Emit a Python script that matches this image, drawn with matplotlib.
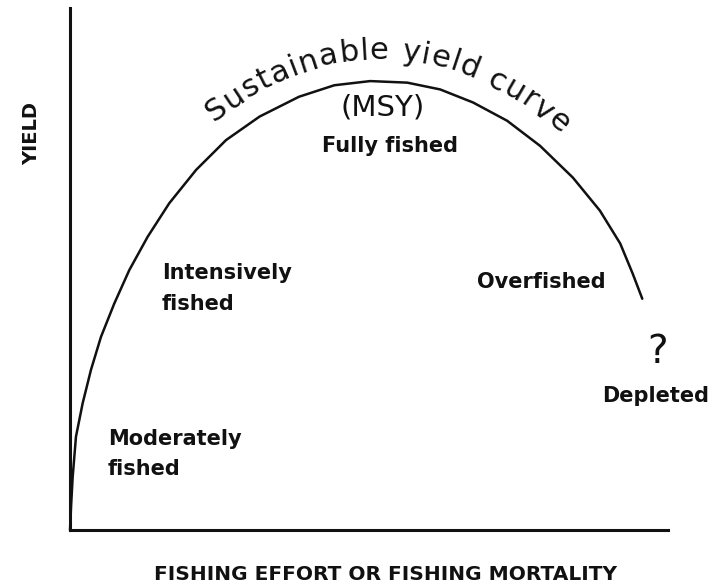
import numpy as np
import matplotlib
matplotlib.use("Agg")
import matplotlib.pyplot as plt

# yield curve (both axes scaled 0-100)
effort = [0, 0.2, 0.45, 1.00, 2.12, 3.51, 5.18, 7.41, 9.92, 13.0, 16.6, 21.1, 26.1,
          31.7, 38.3, 44.2, 50.2, 56.4, 61.9, 67.4, 73.1, 78.6, 84.1, 88.6, 92.0,
          94.1, 95.7]
yield_ = [0, 5.0, 10.2, 17.9, 24.3, 30.7, 37.0, 43.4, 49.8, 56.2, 62.6, 69.0, 74.7,
          79.2, 83.0, 85.2, 86.0, 85.7, 84.4, 81.9, 78.4, 73.6, 67.5, 61.2, 54.9,
          49.1, 44.3]

# region labels (left edge, baseline)
region_text = ["Moderately", "fished", "Intensively", "fished", "Fully fished",
               "Overfished", "Depleted"]
region_x = [6.35, 6.35, 15.4, 15.4, 42.1, 68.1, 89.0]
region_y = [16.3, 10.5, 48.1, 42.1, 72.4, 46.4, 24.5]

curve_title = "Sustainable yield curve"
xlabel = "FISHING EFFORT OR FISHING MORTALITY"
ylabel = "YIELD"

BOLD = dict(family="DejaVu Sans", fontweight="bold", color="#111111")
THIN = dict(family="DejaVu Sans", fontweight="normal", color="#111111")


def curved_text(ax, text, xs, ys, start_x, end_x, offset, **kw):
    """Write text letter by letter along a line offset from the curve (pixels)."""
    fig = ax.figure
    fig.canvas.draw()
    r = fig.canvas.get_renderer()
    pts = ax.transData.transform(np.column_stack([xs, ys]))
    seg = np.hypot(*np.diff(pts, axis=0).T)
    s = np.concatenate([[0], np.cumsum(seg)])

    def at(q):
        return np.interp(q, s, pts[:, 0]), np.interp(q, s, pts[:, 1])

    # offset line, tangents smoothed over a few pixels
    ss = np.linspace(0, s[-1], 3000)
    h = 16
    x0, y0 = at(ss)
    xa, ya = at(np.clip(ss - h, 0, s[-1]))
    xb, yb = at(np.clip(ss + h, 0, s[-1]))
    tx, ty = xb - xa, yb - ya
    n = np.hypot(tx, ty)
    tx, ty = tx / n, ty / n
    ox, oy = x0 - ty * offset, y0 + tx * offset
    so = np.concatenate([[0], np.cumsum(np.hypot(np.diff(ox), np.diff(oy)))])
    ang = np.degrees(np.arctan2(ty, tx))

    def width(ch):
        if ch == " ":
            a = ax.text(0, 0, "a a", **kw)
            b = ax.text(0, 0, "aa", **kw)
            w = a.get_window_extent(r).width - b.get_window_extent(r).width
            a.remove()
            b.remove()
            return w
        t = ax.text(0, 0, ch, **kw)
        w = t.get_window_extent(r).width
        t.remove()
        return w

    widths = [width(ch) for ch in text]
    pos = np.interp(start_x, ox, so)
    end = np.interp(end_x, ox, so)
    tracking = (end - pos - sum(widths)) / (len(text) - 1)
    inv = ax.transData.inverted()
    for ch, w in zip(text, widths):
        c = pos + w / 2
        px, py = np.interp(c, so, ox), np.interp(c, so, oy)
        a = np.interp(c, so, ang)
        dx, dy = inv.transform((px, py))
        ax.text(dx, dy, ch, rotation=a, rotation_mode="anchor",
                ha="center", va="baseline", clip_on=False, **kw)
        pos += w + tracking


fig = plt.figure(figsize=(7.12, 5.85), dpi=100)
ax = fig.add_axes([70 / 712, 55 / 585, 598 / 712, 522 / 585])
ax.set_xlim(0, 100)
ax.set_ylim(0, 100)
for side in ["top", "right"]:
    ax.spines[side].set_visible(False)
for side in ["left", "bottom"]:
    ax.spines[side].set_linewidth(2.2)
    ax.spines[side].set_color("#111111")
ax.set_xticks([])
ax.set_yticks([])

ax.plot(effort, yield_, color="#111111", lw=1.8, solid_capstyle="round",
        solid_joinstyle="round", clip_on=False)

for t, x, y in zip(region_text, region_x, region_y):
    ax.text(x, y, t, ha="left", va="baseline", fontsize=15, clip_on=False, **BOLD)

ax.text(52.3, 79.5, "(MSY)", ha="center", va="baseline", fontsize=21, **THIN)
ax.text(98.2, 32.0, "?", ha="center", va="baseline", fontsize=28, clip_on=False, **THIN)

ax.text(0.528, -0.0958, xlabel, transform=ax.transAxes, ha="center", va="baseline",
        fontsize=14.5, **BOLD)
ax.text(-0.0635, 0.759, ylabel, transform=ax.transAxes, ha="center", va="center",
        rotation=90, fontsize=14, **BOLD)

curved_text(ax, curve_title, effort, yield_, start_x=214, end_x=560, offset=22,
            fontsize=22, **THIN)

fig.savefig("out.png", dpi=100)
